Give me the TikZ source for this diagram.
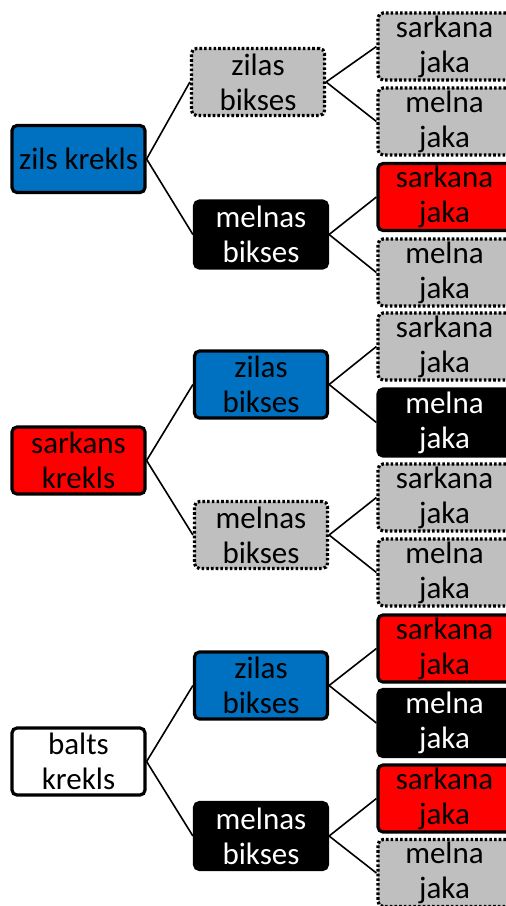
\documentclass[tikz,border=0pt]{standalone}
\usepackage{fontspec}
\setmainfont{Carlito}
\usepackage{tikz}
\usepackage{xcolor}
\definecolor{shirtblue}{RGB}{0,112,192}
\definecolor{shirtred}{RGB}{255,0,0}
\definecolor{shirtgray}{RGB}{191,191,191}

\begin{document}
\begin{tikzpicture}[x=1pt, y=-1pt,
    item/.style={draw, line width=3.2pt, rounded corners=5pt, minimum width=133pt,
        minimum height=67pt, inner sep=1pt, align=center,
        font=\fontsize{31}{35}\selectfont},
    bluebox/.style={item, fill=shirtblue},
    redbox/.style={item, fill=shirtred},
    whitebox/.style={item, fill=white},
    blackbox/.style={item, fill=black, text=white},
    greybox/.style={item, fill=shirtgray, dash pattern=on 2.6pt off 2.1pt},
    link/.style={line width=1.6pt}]
    \clip (0,0) rectangle (506,906);

    % blue shirt
    \node[bluebox] (blue) at (78.5, 159) {zils krekls};
    \node[greybox] (bluezil) at (258, 82) {zilas\\bikses};
    \node[blackbox] (bluemel) at (261, 234.5) {melnas\\bikses};
    \node[greybox] (bluezilsar) at (444.5, 46.5) {sarkana\\jaka};
    \node[greybox] (bluezilmel) at (444.5, 121.5) {melna\\jaka};
    \node[redbox] (bluemelsar) at (444.5, 197) {sarkana\\jaka};
    \node[greybox] (bluemelmel) at (444.5, 272.5) {melna\\jaka};

    % red shirt
    \node[redbox] (red) at (78.5, 460.5) {sarkans\\krekls};
    \node[bluebox] (redzil) at (261, 384.5) {zilas\\bikses};
    \node[greybox] (redmel) at (261, 535) {melnas\\bikses};
    \node[greybox] (redzilsar) at (444.5, 346.5) {sarkana\\jaka};
    \node[blackbox] (redzilmel) at (444.5, 422.5) {melna\\jaka};
    \node[greybox] (redmelsar) at (444.5, 497.5) {sarkana\\jaka};
    \node[greybox] (redmelmel) at (444.5, 572.5) {melna\\jaka};

    % white shirt
    \node[whitebox] (white) at (78.5, 761.5) {balts\\krekls};
    \node[bluebox] (whitezil) at (261, 685.5) {zilas\\bikses};
    \node[blackbox] (whitemel) at (261, 836) {melnas\\bikses};
    \node[redbox] (whitezilsar) at (444.5, 648.5) {sarkana\\jaka};
    \node[blackbox] (whitezilmel) at (444.5, 723) {melna\\jaka};
    \node[redbox] (whitemelsar) at (444.5, 798.5) {sarkana\\jaka};
    \node[greybox] (whitemelmel) at (444.5, 873) {melna\\jaka};

    % branches
    \draw[link] (blue.east) -- (bluezil.west);
    \draw[link] (blue.east) -- (bluemel.west);
    \draw[link] (bluezil.east) -- (bluezilsar.west);
    \draw[link] (bluezil.east) -- (bluezilmel.west);
    \draw[link] (bluemel.east) -- (bluemelsar.west);
    \draw[link] (bluemel.east) -- (bluemelmel.west);

    \draw[link] (red.east) -- (redzil.west);
    \draw[link] (red.east) -- (redmel.west);
    \draw[link] (redzil.east) -- (redzilsar.west);
    \draw[link] (redzil.east) -- (redzilmel.west);
    \draw[link] (redmel.east) -- (redmelsar.west);
    \draw[link] (redmel.east) -- (redmelmel.west);

    \draw[link] (white.east) -- (whitezil.west);
    \draw[link] (white.east) -- (whitemel.west);
    \draw[link] (whitezil.east) -- (whitezilsar.west);
    \draw[link] (whitezil.east) -- (whitezilmel.west);
    \draw[link] (whitemel.east) -- (whitemelsar.west);
    \draw[link] (whitemel.east) -- (whitemelmel.west);
\end{tikzpicture}
\end{document}
